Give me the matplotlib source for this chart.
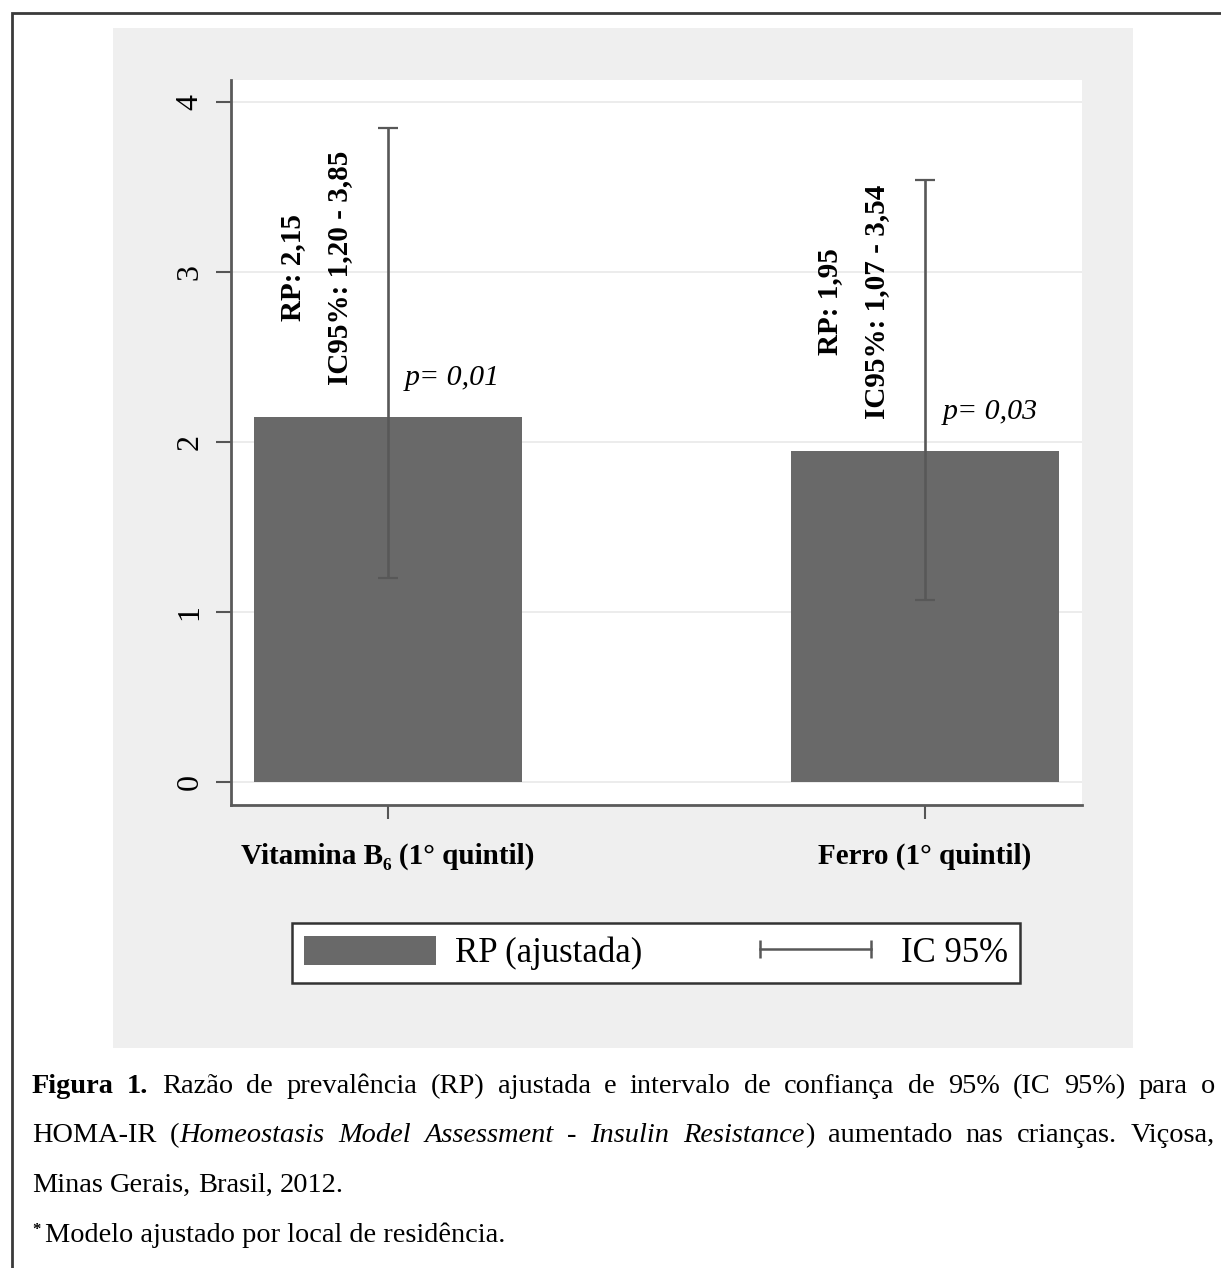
import numpy as np
import matplotlib; matplotlib.use("Agg")
import matplotlib.pyplot as plt
from matplotlib.patches import Rectangle, Patch
from matplotlib.lines import Line2D

W, H = 1221, 1268
SERIF = ["Liberation Serif", "DejaVu Serif"]

# ── data ────────────────────────────────────────────────────────────────
categories = ["Vitamina B\u2086 (1\u00b0 quintil)", "Ferro (1\u00b0 quintil)"]
rp = [2.15, 1.95]
ci_lo = [1.20, 1.07]
ci_hi = [3.85, 3.54]
rp_labels = ["RP: 2,15", "RP: 1,95"]
ci_labels = ["IC95%: 1,20 - 3,85", "IC95%: 1,07 - 3,54"]
p_labels = ["0,01", "0,03"]
yticks = [0, 1, 2, 3, 4]

BAR = "#696969"
ERR = "#585858"


def fx(px): return px / W
def fy(py): return 1 - py / H


fig = plt.figure(figsize=(W / 100, H / 100), dpi=100)
fig.patch.set_facecolor("white")

# outer frame + grey Stata-like panel
fig.patches.append(Rectangle((fx(12), fy(1300)), fx(1240), fy(13) - fy(1300),
                             transform=fig.transFigure, fill=False,
                             edgecolor="#3a3a3a", lw=2, zorder=-2))
fig.patches.append(Rectangle((fx(113), fy(1048)), fx(1133 - 113), fy(28) - fy(1048),
                             transform=fig.transFigure, facecolor="#efefef",
                             edgecolor="none", zorder=-2))

ax = fig.add_axes([fx(231), fy(805), fx(1082 - 231), fy(80) - fy(805)])
ax.set_facecolor("white")
x = np.arange(len(categories))
ax.bar(x, rp, 0.5, color=BAR, zorder=2)
ax.errorbar(x, rp, yerr=[np.subtract(rp, ci_lo), np.subtract(ci_hi, rp)],
            fmt="none", ecolor=ERR, elinewidth=1.9, capsize=7, capthick=1.6, zorder=3)

ax.set_xlim(-0.292, 1.292)
ax.set_ylim(-0.135, 4.13)
ax.set_yticks(yticks)
ax.set_yticklabels([str(v) for v in yticks], rotation=90, va="center",
                   fontsize=23, family=SERIF)
ax.set_xticks(x)
ax.set_xticklabels(categories, fontsize=21, fontweight="bold", family=SERIF)
ax.tick_params(axis="y", length=11, width=1.5, color="#555555", pad=8)
ax.tick_params(axis="x", length=10, width=1.5, color="#555555", pad=17)
ax.grid(axis="y", color="#ebebeb", lw=1.3, zorder=0)
ax.set_axisbelow(True)
for s in ["top", "right"]:
    ax.spines[s].set_visible(False)
for s in ["left", "bottom"]:
    ax.spines[s].set_color("#5a5a5a")
    ax.spines[s].set_linewidth(2)

for i in range(len(categories)):
    ax.text(x[i] - 0.177, rp[i] + 0.565, rp_labels[i], rotation=90, ha="center",
            va="bottom", fontsize=21, fontweight="bold", family=SERIF)
    ax.text(x[i] - 0.090, rp[i] + 0.185, ci_labels[i], rotation=90, ha="center",
            va="bottom", fontsize=21, fontweight="bold", family=SERIF)
    ax.text(x[i] + 0.032, rp[i] + 0.225, "p= " + p_labels[i], ha="left",
            va="center", fontsize=21.5, style="italic", family=SERIF)

# legend
handles = [Patch(facecolor=BAR, edgecolor="none"),
           Line2D([], [], color=ERR, lw=1.8, marker="|", markersize=13, mew=1.8)]
leg = fig.legend(handles, ["RP (ajustada)", "IC 95%"], ncol=2, loc="center",
                 bbox_to_anchor=(fx(292), fy(986), fx(1020 - 292), fy(920) - fy(986)),
                 mode="expand", numpoints=2, handlelength=3.8, handleheight=0.95,
                 handletextpad=0.55, borderpad=0.35, borderaxespad=0,
                 fancybox=False, framealpha=1, edgecolor="#333333",
                 prop={"family": SERIF, "size": 25})
leg.get_frame().set_linewidth(1.8)

# caption, justified like the source
R = {}
B = {"fontweight": "bold"}
I = {"style": "italic"}
caption = [
    ([[("Figura", B)], [("1.", B)], [("Razão", R)], [("de", R)], [("prevalência", R)],
      [("(RP)", R)], [("ajustada", R)], [("e", R)], [("intervalo", R)], [("de", R)],
      [("confiança", R)], [("de", R)], [("95%", R)], [("(IC", R)], [("95%)", R)],
      [("para", R)], [("o", R)]], 1093, True),
    ([[("HOMA-IR", R)], [("(", R), ("Homeostasis", I)], [("Model", I)],
      [("Assessment", I)], [("-", I)], [("Insulin", I)], [("Resistance", I), (")", R)],
      [("aumentado", R)], [("nas", R)], [("crianças.", R)], [("Viçosa,", R)]], 1142, True),
    ([[("Minas", R)], [("Gerais,", R)], [("Brasil,", R)], [("2012.", R)]], 1192, False),
]
renderer = fig.canvas.get_renderer()
FS = 20.4


def width(s, kw):
    t = fig.text(0, 0, s, fontsize=FS, family=SERIF, **kw)
    w = t.get_window_extent(renderer).width
    t.remove()
    return w


space = width("a b", R) - width("ab", R)
for words, yb, justify in caption:
    ws = [sum(width(s, kw) for s, kw in wd) for wd in words]
    gap = (1215 - 32 - sum(ws)) / (len(words) - 1) if justify else space
    xp = 32
    for wd, wlen in zip(words, ws):
        xr = xp
        for s, kw in wd:
            fig.text(fx(xr), fy(yb), s, fontsize=FS, family=SERIF, va="baseline", **kw)
            xr += width(s, kw)
        xp += wlen + gap

fig.text(fx(32), fy(1234), "*", fontsize=12, family=SERIF, va="baseline",
         fontweight="bold")
fig.text(fx(45), fy(1242), "Modelo ajustado por local de residência.", fontsize=FS,
         family=SERIF, va="baseline")

fig.savefig("out.png", dpi=100, facecolor="white")
